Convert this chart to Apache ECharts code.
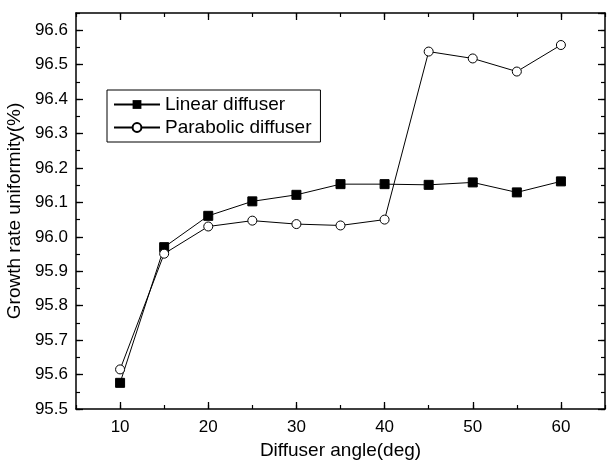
<!DOCTYPE html>
<html>
<head>
<meta charset="utf-8">
<script src="https://cdn.jsdelivr.net/npm/echarts@6/dist/echarts.min.js"></script>
<style>
  html, body { margin: 0; padding: 0; background: #fff; }
  #main { width: 607px; height: 467px; }
</style>
</head>
<body>
<div id="main"></div>
<script>
// values
var angles = [10, 15, 20, 25, 30, 35, 40, 45, 50, 55, 60];
var linearDiffuser = [95.576, 95.970, 96.061, 96.103, 96.122, 96.153, 96.153, 96.151, 96.158, 96.129, 96.161];
var parabolicDiffuser = [95.615, 95.951, 96.030, 96.047, 96.037, 96.033, 96.050, 96.538, 96.518, 96.480, 96.557];
var xMajorTicks = [10, 20, 30, 40, 50, 60];

function pairs(ys) {
  return angles.map(function (a, i) { return [a, ys[i]]; });
}

var font = 'Liberation Sans, Arial, sans-serif';
var black = '#000';

function xAx(pos, major, first) {
  return {
    type: 'value', position: pos, min: 5, max: 65, interval: 5,
    axisLine: { show: first, onZero: false, lineStyle: { color: black, width: 1.5 } },
    axisTick: major
      ? { show: true, inside: true, length: 7, customValues: xMajorTicks, lineStyle: { color: black, width: 1.3 } }
      : { show: true, inside: true, length: 4, lineStyle: { color: black, width: 1.2 } },
    axisLabel: { show: false },
    splitLine: { show: false }
  };
}

function yAx(pos, major, first) {
  return {
    type: 'value', position: pos, min: 95.5, max: 96.65, interval: major ? 0.1 : 0.05,
    axisLine: { show: first, onZero: false, lineStyle: { color: black, width: 1.5 } },
    axisTick: { show: true, inside: true, length: major ? 7 : 4, lineStyle: { color: black, width: major ? 1.3 : 1.2 } },
    axisLabel: { show: false },
    splitLine: { show: false }
  };
}

var xBottom = xAx('bottom', false, true);
xBottom.axisLabel = {
  show: true, color: black, fontSize: 17, fontFamily: font, margin: 10,
  formatter: function (v) { return v % 10 === 0 ? String(v) : ''; }
};
xBottom.name = 'Diffuser angle(deg)';
xBottom.nameLocation = 'middle';
xBottom.nameGap = 30;
xBottom.nameTextStyle = { color: black, fontSize: 19, fontFamily: font };

var yLeft = yAx('left', true, true);
yLeft.axisLabel = {
  show: true, color: black, fontSize: 17, fontFamily: font, margin: 8, showMaxLabel: false,
  formatter: function (v) { return v.toFixed(1); }
};
yLeft.name = 'Growth rate uniformity(%)';
yLeft.nameLocation = 'middle';
yLeft.nameGap = 52;
yLeft.nameTextStyle = { color: black, fontSize: 19, fontFamily: font };

var myChart = echarts.init(document.getElementById('main'), null, { renderer: 'canvas' });

var option = {
  backgroundColor: '#fff',
  animation: false,
  grid: { left: 76, right: 2, top: 13, bottom: 58, outerBoundsMode: 'none' },
  legend: {
    left: 107, top: 90, orient: 'vertical',
    borderColor: black, borderWidth: 1, padding: [5, 9, 5, 6],
    itemWidth: 46, itemHeight: 11, itemGap: 4,
    textStyle: { color: black, fontSize: 19, fontFamily: font },
    data: ['Linear diffuser', 'Parabolic diffuser']
  },
  xAxis: [xBottom, xAx('bottom', true, false), xAx('top', false, true), xAx('top', true, false)],
  yAxis: [yLeft, yAx('left', false, false), yAx('right', true, true), yAx('right', false, false)],
  series: [{
    name: 'Linear diffuser',
    type: 'line',
    data: pairs(linearDiffuser),
    symbol: 'rect', symbolSize: 9,
    itemStyle: { color: black, borderColor: black },
    lineStyle: { color: black, width: 1 }
  }, {
    name: 'Parabolic diffuser',
    type: 'line',
    data: pairs(parabolicDiffuser),
    symbol: 'circle', symbolSize: 9,
    itemStyle: { color: '#fff', borderColor: black, borderWidth: 1 },
    lineStyle: { color: black, width: 1 }
  }]
};

myChart.setOption(option);
window.onresize = function () { myChart.resize(); };
</script>
</body>
</html>
